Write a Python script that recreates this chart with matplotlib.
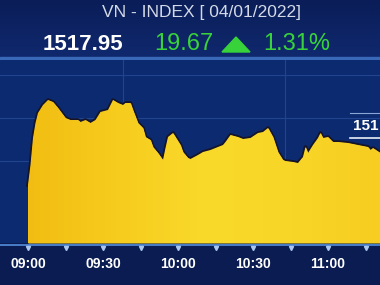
import matplotlib
matplotlib.use("Agg")
import matplotlib.pyplot as plt
import numpy as np
from matplotlib.colors import LinearSegmentedColormap
from matplotlib.patches import Rectangle, Polygon

# ── data ─────────────────────────────────────────────────────────────────────
# minutes after 09:00 and VN-Index level
minutes = [0, 1, 2, 3, 4, 6, 8, 10, 12, 15, 17, 20, 21, 23, 25, 27, 29, 32,
           34, 36, 38, 39, 41, 42, 44, 46, 47, 49, 50, 52, 54, 55, 56, 58,
           59, 61, 62, 64, 65, 68, 70, 73, 76, 78, 79, 81, 84, 86, 89, 92,
           94, 96, 98, 100, 102, 103, 106, 108, 110, 111, 112, 114, 116, 117,
           118, 120, 122, 124, 128, 132, 136, 137, 138, 141]
index_values = [1509.42, 1514.07, 1520.35, 1523.84, 1526.16, 1528.02, 1529.19,
                1528.72, 1527.33, 1525.00, 1524.53, 1524.53, 1524.07, 1524.53,
                1523.84, 1524.53, 1526.40, 1526.86, 1529.19, 1528.49, 1528.02,
                1528.49, 1528.49, 1526.86, 1523.84, 1522.67, 1520.58, 1519.88,
                1518.26, 1516.86, 1515.23, 1518.02, 1520.58, 1521.51, 1520.58,
                1518.72, 1517.09, 1515.70, 1515.47, 1516.40, 1517.09, 1517.56,
                1518.26, 1518.72, 1519.42, 1521.05, 1520.58, 1520.12, 1520.35,
                1521.51, 1521.74, 1522.67, 1520.58, 1517.09, 1515.23, 1515.00,
                1514.77, 1514.53, 1515.93, 1518.26, 1516.86, 1518.72, 1520.35,
                1521.51, 1520.35, 1520.58, 1519.42, 1519.42, 1519.19, 1518.72,
                1518.26, 1517.56, 1518.02, 1516.86]
tick_minutes = [0, 30, 60, 90, 120]
tick_labels = ["09:00", "09:30", "10:00", "10:30", "11:00"]
marker_minutes = [0, 15, 30, 45, 60, 75, 90, 105, 120, 135]
grid_levels = [1535, 1525, 1515]

title = "VN - INDEX [ 04/01/2022]"
last_price = "1517.95"
change = "19.67"
change_pct = "1.31%"

# ── colours / fonts ──────────────────────────────────────────────────────────
HEADER_TOP = "#0a1d58"
HEADER_BOT = "#10296e"
CHART_BG = "#0c2a6f"
FOOT_BG = "#0a1c52"
GREEN = "#38d23a"
plt.rcParams["font.family"] = ["Liberation Sans", "DejaVu Sans"]

W, H = 380, 285
fig = plt.figure(figsize=(W / 100, H / 100), dpi=100)
fig.patch.set_facecolor(FOOT_BG)

# background / header in pixel coordinates
bg = fig.add_axes([0, 0, 1, 1])
bg.axis("off")
hdr = np.linspace(0, 1, 64)[:, None, None]
c0 = np.array(matplotlib.colors.to_rgb(HEADER_TOP))
c1 = np.array(matplotlib.colors.to_rgb(HEADER_BOT))
bg.imshow(c0 * (1 - hdr) + c1 * hdr, extent=[0, W, 58, 0], aspect="auto")
bg.add_patch(Rectangle((0, 57), W, 3, color="#3a68b8"))
bg.plot([0, W], [244.5, 244.5], color="#4f86d2", lw=1.3)
bg.set_xlim(0, W)
bg.set_ylim(H, 0)

bg.text(202, 13, title, ha="center", va="center", fontsize=12.5,
        color="#d3d9e6")
bg.text(83, 44, last_price, ha="center", va="center", fontsize=16,
        fontweight="bold", color="white")
bg.text(184, 44, change, ha="center", va="center", fontsize=17,
        color=GREEN)
bg.add_patch(Polygon([(222, 52), (250, 52), (236, 37)], color=GREEN))
bg.text(297, 44, change_pct, ha="center", va="center", fontsize=17,
        color=GREEN)

# ── chart ────────────────────────────────────────────────────────────────────
ax = fig.add_axes([0, 1 - 243 / H, 1, (243 - 60) / H])
ax.set_facecolor(CHART_BG)
x0, x1 = -11.2, 140.8
y0, y1 = 1495.93, 1538.49

for g in grid_levels:
    ax.axhline(g, color="#20448f", lw=0.8, zorder=1)
for v in (38, 102.8):
    ax.axvline(v, color="#20448f", lw=0.8, zorder=1)

ax.plot(minutes, index_values, color="#15142a", lw=2.6, zorder=2,
        solid_joinstyle="round")
poly = ax.fill_between(minutes, index_values, y0, color="#f6cc1e",
                       lw=0, zorder=3)
gold = LinearSegmentedColormap.from_list(
    "gold", ["#f2bd12", "#f6cc1e", "#f9d92a", "#f8d628", "#f6cd20"])
grad = np.linspace(0, 1, 256)[None, :]
im = ax.imshow(grad, cmap=gold, extent=[0, 141, y0, y1], aspect="auto",
               zorder=4)
im.set_clip_path(poly.get_paths()[0], transform=ax.transData)

ax.set_xlim(x0, x1)
ax.set_ylim(y0, y1)
ax.set_yticks([])
ax.set_xticks(tick_minutes, tick_labels)
ax.tick_params(axis="x", length=0, pad=10, labelsize=10, labelcolor="white")
for lbl in ax.get_xticklabels():
    lbl.set_fontweight("bold")
for s in ax.spines.values():
    s.set_visible(False)

ax.plot(marker_minutes, [-0.03] * len(marker_minutes),
        transform=ax.get_xaxis_transform(), marker="v", ms=3, ls="none",
        color="#a8c8f0", clip_on=False)

# last-price tag drawn on a transparent overlay
top = fig.add_axes([0, 0, 1, 1])
top.patch.set_alpha(0)
top.axis("off")
top.set_xlim(0, W)
top.set_ylim(H, 0)
top.plot([350, W], [112.5, 112.5], color="#8aa6d8", lw=0.8)
top.plot([350, W], [138, 138], color="#e8eef8", lw=1.2)
top.text(353, 126, last_price[:3], ha="left", va="center", fontsize=11,
         fontweight="bold", color="white")

fig.savefig("out.png", dpi=100, facecolor=fig.get_facecolor())
